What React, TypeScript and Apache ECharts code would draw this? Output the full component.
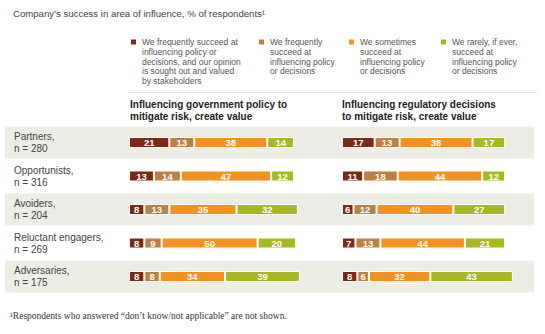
import React, { useEffect, useRef } from 'react';
import * as echarts from 'echarts';

const categories = ['Partners', 'Opportunists', 'Avoiders', 'Reluctant engagers', 'Adversaries'];
const respondents = [280, 316, 204, 269, 175];

const legendNames = [
  'We frequently succeed at\ninfluencing policy or\ndecisions, and our opinion\nis sought out and valued\nby stakeholders',
  'We frequently\nsucceed at\ninfluencing policy\nor decisions',
  'We sometimes\nsucceed at\ninfluencing policy\nor decisions',
  'We rarely, if ever,\nsucceed at\ninfluencing policy\nor decisions',
];
const colors = ['#7b2814', '#bd8040', '#f5921f', '#a8b825'];

// Influencing government policy to mitigate risk, create value
const govValued = [21, 13, 8, 8, 8];
const govFrequent = [13, 14, 13, 9, 8];
const govSometimes = [38, 47, 35, 50, 34];
const govRarely = [14, 12, 32, 20, 39];

// Influencing regulatory decisions to mitigate risk, create value
const regValued = [17, 11, 6, 7, 8];
const regFrequent = [13, 18, 12, 13, 6];
const regSometimes = [38, 44, 40, 44, 32];
const regRarely = [17, 12, 27, 21, 43];

const bandRows = [1, 0, 1, 0, 1];

const headers = [
  'Influencing government policy to\nmitigate risk, create value',
  'Influencing regulatory decisions\nto mitigate risk, create value',
];
const titleText = 'Company\u2019s success in area of influence, % of respondents\u00B9';
const footnote = '\u00B9Respondents who answered \u201Cdon\u2019t know/not applicable\u201D are not shown.';

const FONT = 'Liberation Sans, Arial, sans-serif';

export default function App() {
  const ref = useRef<HTMLDivElement>(null);
  useEffect(() => {
    const chart = echarts.init(ref.current!, null, { renderer: 'svg' });
    const gridTop = 125.75;
    const gridHeight = 167.5;
    const barSeries = (stack: string, axis: number, sets: number[][]) =>
      sets.map((d, i) => ({
        type: 'bar',
        name: legendNames[i],
        stack,
        xAxisIndex: axis,
        yAxisIndex: axis,
        data: d,
        barWidth: 11,
        z: 3,
        itemStyle: { color: colors[i], borderColor: '#ffffff', borderWidth: 1 },
        label: {
          show: true,
          position: 'inside',
          color: '#ffffff',
          fontSize: 9.5,
          fontWeight: 'bold',
          fontFamily: FONT,
        },
      }));
    const lineH = 9.8;
    const lefts = [129, 257, 347, 439];
    const legends = legendNames.map((n, i) => {
      const lines = n.split('\n').length;
      const total = 2 * lines - 1;
      const c = 42;
      return {
        data: [n],
        left: lefts[i],
        top: c - (total * lineH) / 2,
        padding: 0,
        icon: 'rect',
        itemWidth: 7,
        itemHeight: 7,
        selectedMode: false,
        formatter: (name: string) => '\n'.repeat(lines - 1) + name,
        textStyle: {
          fontSize: 8.5,
          lineHeight: lineH,
          color: '#555',
          fontFamily: FONT,
        },
      };
    });
    const option = {
      animation: false,
      textStyle: { fontFamily: FONT },
      title: [
        {
          text: titleText,
          left: 13,
          top: 7,
          padding: 0,
          textStyle: { fontSize: 9.6, lineHeight: 12, fontWeight: 'normal', color: '#444', fontFamily: FONT },
        },
        {
          text: headers[0],
          left: 130,
          top: 98.5,
          padding: 0,
          textStyle: { fontSize: 10, lineHeight: 12, fontWeight: 'bold', color: '#222', fontFamily: FONT },
        },
        {
          text: headers[1],
          left: 342,
          top: 98.5,
          padding: 0,
          textStyle: { fontSize: 10, lineHeight: 12, fontWeight: 'bold', color: '#222', fontFamily: FONT },
        },
        {
          text: footnote,
          left: 10,
          top: 310,
          padding: 0,
          textStyle: { fontSize: 9.5, lineHeight: 12, fontWeight: 'normal', color: '#333', fontFamily: 'Liberation Serif, serif' },
        },
      ],
      legend: legends,
      graphic: [
        {
          type: 'line',
          shape: { x1: 128, y1: 92.5, x2: 537, y2: 92.5 },
          style: { stroke: '#e2e2e2', lineWidth: 1 },
          silent: true,
        },
      ],
      grid: [
        { left: 5, width: 529, top: gridTop, height: gridHeight },
        { left: 129, width: 192, top: gridTop, height: gridHeight },
        { left: 342, width: 192, top: gridTop, height: gridHeight },
      ],
      xAxis: [
        { type: 'value', gridIndex: 0, min: 0, max: 1, show: false },
        { type: 'value', gridIndex: 1, min: 0, max: 100, show: false },
        { type: 'value', gridIndex: 2, min: 0, max: 100, show: false },
      ],
      yAxis: [
        { type: 'category', gridIndex: 0, data: categories, inverse: true, show: false },
        {
          type: 'category',
          gridIndex: 1,
          data: categories,
          inverse: true,
          axisLine: { show: false },
          axisTick: { show: false },
          axisLabel: {
            margin: 115,
            align: 'left',
            fontSize: 10,
            lineHeight: 12,
            color: '#444',
            fontFamily: FONT,
            formatter: (v: string, i: number) => `${v},\nn = ${respondents[i]}`,
          },
        },
        { type: 'category', gridIndex: 2, data: categories, inverse: true, show: false },
      ],
      series: [
        {
          type: 'bar',
          name: 'band',
          xAxisIndex: 0,
          yAxisIndex: 0,
          data: bandRows,
          barWidth: 32,
          silent: true,
          z: 0,
          itemStyle: { color: '#eeede5' },
        },
        ...barSeries('gov', 1, [govValued, govFrequent, govSometimes, govRarely]),
        ...barSeries('reg', 2, [regValued, regFrequent, regSometimes, regRarely]),
      ],
    };
    chart.setOption(option as any);
    return () => chart.dispose();
  }, []);
  return (
    <div
      ref={ref}
      style={{ position: 'fixed', left: 0, top: 0, width: 545, height: 334, background: '#ffffff' }}
    />
  );
}
